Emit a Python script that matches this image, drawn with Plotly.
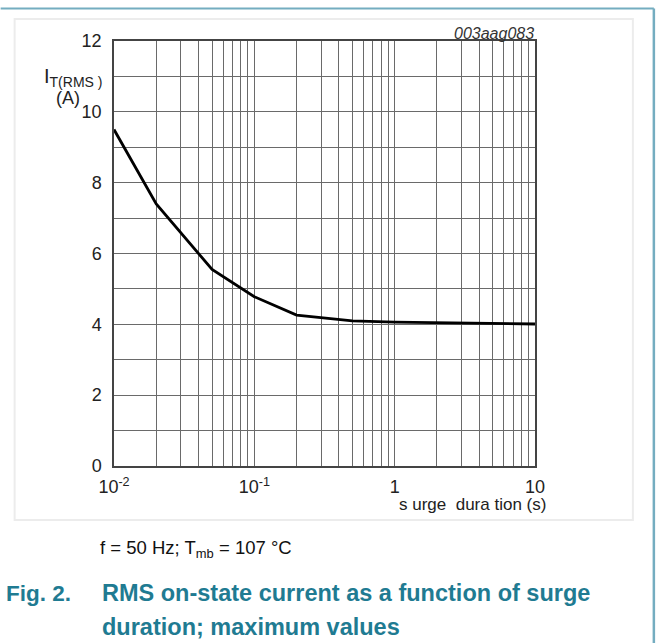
import plotly.graph_objects as go

# Data
duration_s = [0.01, 0.02, 0.05, 0.1, 0.2, 0.5, 1, 2, 5, 10]
current_a = [9.5, 7.4, 5.55, 4.78, 4.26, 4.1, 4.06, 4.04, 4.02, 4.01]

x_tickvals = [0.01, 0.1, 1, 10]
x_ticktext = ["10<sup>-2</sup>", "10<sup>-1</sup>", "1", "10"]
y_tickvals = [0, 2, 4, 6, 8, 10, 12]

x_minor = [m * d for d in (0.01, 0.1, 1) for m in range(2, 10)]
y_minor = list(range(0, 13))

FONT = "Liberation Sans, Arial, sans-serif"
TEAL = "#1f7b92"
BORDER = "#74adc0"

fig = go.Figure()
fig.add_trace(go.Scatter(x=duration_s, y=current_a, mode="lines",
                         line=dict(color="black", width=2.8), showlegend=False,
                         hoverinfo="skip"))

fig.update_layout(
    width=656, height=643,
    margin=dict(l=113.5, r=121, t=41, b=177),
    paper_bgcolor="white", plot_bgcolor="white",
    font=dict(family=FONT, color="#222", size=18),
    xaxis=dict(type="log", range=[-2, 1], tickvals=x_tickvals, ticktext=x_ticktext,
               showgrid=True, gridcolor="#6a6a6a", gridwidth=1.3,
               minor=dict(tickvals=x_minor, showgrid=True, gridcolor="#6a6a6a", gridwidth=1.3, ticks=""),
               showline=True, linecolor="#444", linewidth=1.5, mirror=True,
               ticks="", zeroline=False, tickfont=dict(size=18), ticklabelstandoff=4),
    yaxis=dict(range=[0, 12], tickvals=y_tickvals,
               showgrid=True, gridcolor="#6a6a6a", gridwidth=1.3,
               minor=dict(tickvals=y_minor, showgrid=True, gridcolor="#6a6a6a", gridwidth=1.3, ticks=""),
               showline=True, linecolor="#444", linewidth=1.5, mirror=True,
               ticks="", zeroline=False, tickfont=dict(size=18), ticklabelstandoff=7),
)

def px(x): return (x - 113.5) / (535 - 113.5)
def py(y): return (466 - y) / (466 - 41)

fig.add_shape(type="rect", xref="paper", yref="paper",
              x0=px(14), x1=px(633), y0=py(520), y1=py(19),
              line=dict(color="#ececec", width=2), layer="below")
fig.add_shape(type="line", xref="paper", yref="paper",
              x0=px(0), x1=px(654), y0=py(8.5), y1=py(8.5),
              line=dict(color=BORDER, width=2))
fig.add_shape(type="line", xref="paper", yref="paper",
              x0=px(654), x1=px(654), y0=py(8.5), y1=py(650),
              line=dict(color=BORDER, width=2.5))

ann = []
ann.append(dict(text="<i>003aag083</i>", x=px(536), y=py(33), xanchor="right", yanchor="middle",
                showarrow=False, font=dict(size=16, color="#333")))
ann.append(dict(text="I<sub>T(RMS )</sub>", x=px(41), y=py(77), xanchor="left", yanchor="middle",
                showarrow=False, font=dict(size=20)))
ann.append(dict(text="(A)", x=px(67), y=py(98), xanchor="center", yanchor="middle",
                showarrow=False, font=dict(size=18)))
ann.append(dict(text="s urge  dura tion (s)", x=px(472), y=py(504), xanchor="center", yanchor="middle",
                showarrow=False, font=dict(size=17)))
ann.append(dict(text="f = 50 Hz; T<sub>mb</sub> = 107 °C", x=px(97), y=py(549), xanchor="left",
                yanchor="middle", showarrow=False, font=dict(size=18.5, color="#111")))
ann.append(dict(text="<b>Fig. 2.</b>", x=px(3), y=py(593), xanchor="left", yanchor="middle",
                showarrow=False, font=dict(size=22.5, color=TEAL)))
ann.append(dict(text="<b>RMS on-state current as a function of surge</b>", x=px(99), y=py(593),
                xanchor="left", yanchor="middle", showarrow=False, font=dict(size=23.5, color=TEAL)))
ann.append(dict(text="<b>duration; maximum values</b>", x=px(99), y=py(627),
                xanchor="left", yanchor="middle", showarrow=False, font=dict(size=23.5, color=TEAL)))
for a in ann:
    a["xref"] = "paper"; a["yref"] = "paper"
fig.update_layout(annotations=ann)

fig.write_html("out.html", config={"displayModeBar": False},
               post_script="document.body.style.margin='0';document.body.style.overflow='hidden';")
